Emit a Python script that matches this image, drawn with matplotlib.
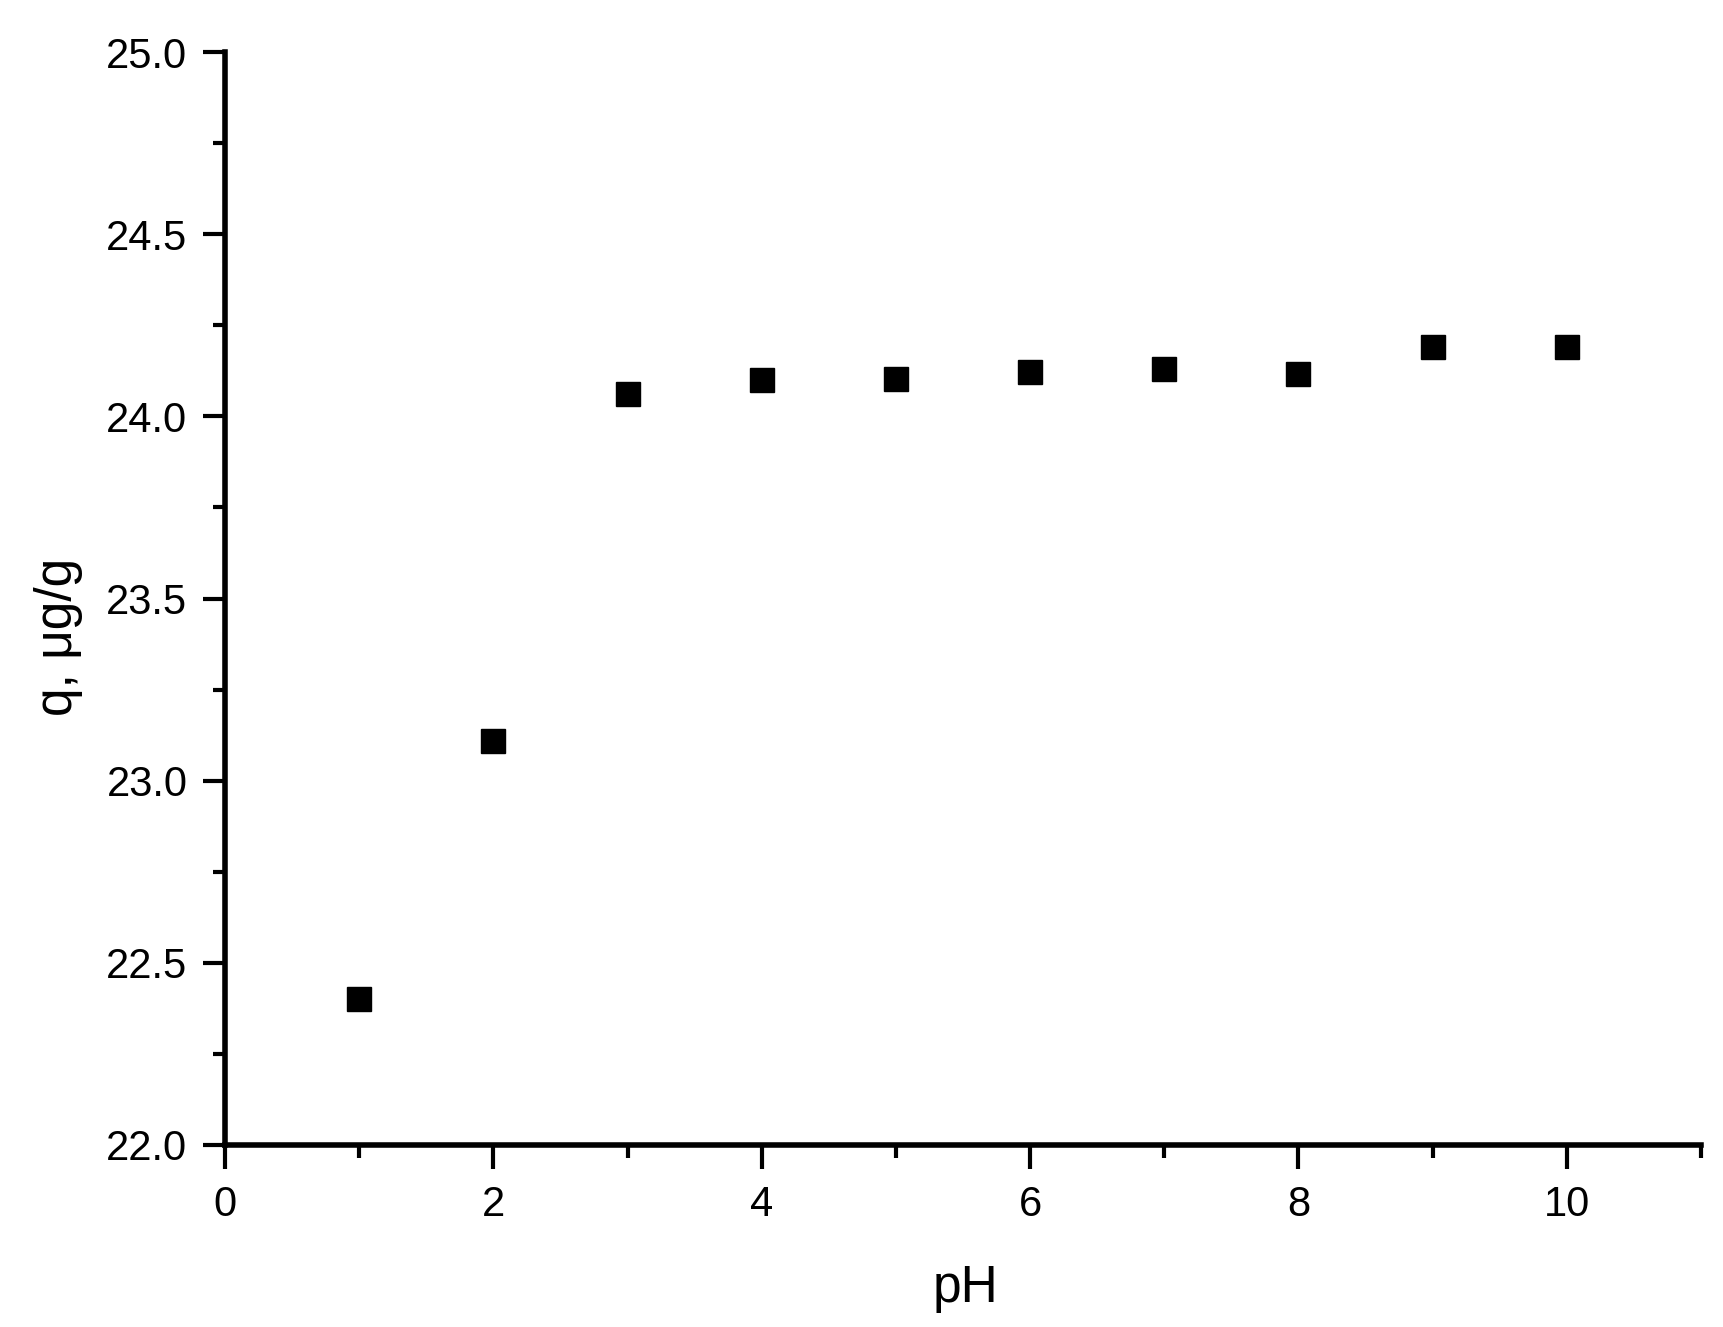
import matplotlib
matplotlib.use("Agg")
import matplotlib.pyplot as plt
from matplotlib.ticker import MultipleLocator

plt.rcParams['font.family'] = ['Liberation Sans', 'DejaVu Sans']

ph = [1, 2, 3, 4, 5, 6, 7, 8, 9, 10]
q = [22.40, 23.11, 24.06, 24.10, 24.103, 24.121, 24.13, 24.115, 24.19, 24.19]

W, H = 1724, 1327
fig = plt.figure(figsize=(W / 100, H / 100), dpi=100)
ax = fig.add_axes([225 / W, 1 - 1145 / H, (1701 - 225) / W, (1145 - 52) / H])

ax.plot(ph, q, linestyle='none', marker='s', markersize=17, color='black')

ax.set_xlim(0, 11)
ax.set_ylim(22.0, 25.0)
ax.xaxis.set_major_locator(MultipleLocator(2))
ax.xaxis.set_minor_locator(MultipleLocator(1))
ax.yaxis.set_major_locator(MultipleLocator(0.5))
ax.yaxis.set_minor_locator(MultipleLocator(0.25))
ax.yaxis.set_major_formatter(matplotlib.ticker.FormatStrFormatter('%.1f'))

for s in ['top', 'right']:
    ax.spines[s].set_visible(False)
for s in ['left', 'bottom']:
    ax.spines[s].set_linewidth(4.0)

ax.tick_params(which='major', direction='out', length=16, width=3.0, labelsize=30, pad=11)
ax.tick_params(which='minor', direction='out', length=9, width=3.0)
ax.tick_params(axis='x', which='major', length=17, pad=12)

fig.text(965 / W, 1 - 1302 / H, 'pH', ha='center', va='baseline', fontsize=37)
fig.text(59 / W, 1 - 637 / H, 'q, μg/g', ha='center', va='center', rotation=90, fontsize=37)

fig.savefig('out.png', dpi=100)
